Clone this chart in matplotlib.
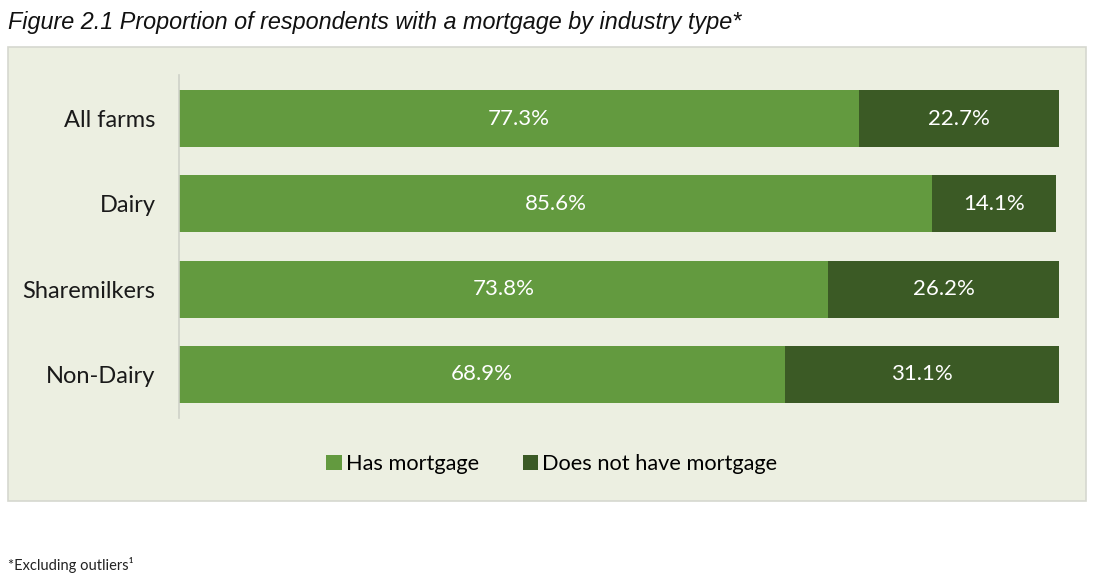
import numpy as np
import matplotlib
matplotlib.use("Agg")
from matplotlib import pyplot as plt
from matplotlib.patches import Rectangle

categories = ["All farms", "Dairy", "Sharemilkers", "Non-Dairy"]
has_mortgage = [77.3, 85.6, 73.8, 68.9]
no_mortgage = [22.7, 14.1, 26.2, 31.1]
series_names = ["Has mortgage", "Does not have mortgage"]

light_green = "#639a3f"
dark_green = "#3b5a25"
panel_bg = "#ecefe1"

plt.rcParams['font.family'] = ['Lato', 'DejaVu Sans']

fig = plt.figure(figsize=(11, 5.74), dpi=100)

# background panel behind the chart
panel = Rectangle((8 / 1100, 1 - 501 / 574), 1078 / 1100, 454 / 574,
                  transform=fig.transFigure, facecolor=panel_bg,
                  edgecolor="#d6d8cf", linewidth=1.2, zorder=-10)
fig.patches.append(panel)

ax = fig.add_axes([179 / 1100, 1 - 418 / 574, 880 / 1100, 343 / 574])
ax.set_facecolor("none")
ax.set_zorder(5)

y = np.arange(len(categories))
bars1 = ax.barh(y, has_mortgage, height=0.67, color=light_green, label=series_names[0])
bars2 = ax.barh(y, no_mortgage, left=has_mortgage, height=0.67, color=dark_green,
                label=series_names[1])

for bars, vals in [(bars1, has_mortgage), (bars2, no_mortgage)]:
    for b, v in zip(bars, vals):
        ax.text(b.get_x() + b.get_width() / 2, b.get_y() + b.get_height() / 2,
                f"{v:.1f}%", ha="center", va="center", color="white",
                fontsize=16)

ax.set_xlim(0, 100)
ax.set_ylim(len(categories) - 0.49, -0.51)
ax.set_yticks(y)
ax.set_yticklabels(categories, fontsize=17, color="#1a1a1a")
ax.tick_params(axis="y", length=0, pad=17)
ax.set_xticks([])
for side in ["top", "right", "bottom"]:
    ax.spines[side].set_visible(False)
ax.spines["left"].set_color("#cfd1c8")
ax.spines["left"].set_linewidth(1.2)

fig.legend(handles=[bars1, bars2], labels=series_names, loc="center",
           bbox_to_anchor=(552 / 1100, 1 - 464 / 574), ncol=2, frameon=False,
           fontsize=15.7, handlelength=0.7, handleheight=0.7, handletextpad=0.2,
           columnspacing=2.0)

fig.text(8 / 1100, 1 - 23 / 574,
         "Figure 2.1 Proportion of respondents with a mortgage by industry type*",
         family="Liberation Sans", style="italic", fontsize=16.8, color="#111111",
         va="center", ha="left")

fig.text(8 / 1100, 1 - 565 / 574, "*Excluding outliers\u00b9", fontsize=10.5,
         color="#222222", va="center", ha="left")

fig.savefig("out.png", dpi=100)
